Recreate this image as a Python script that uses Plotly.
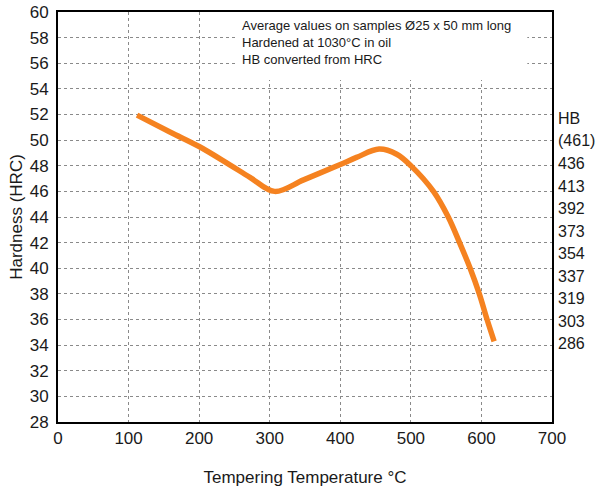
import plotly.graph_objects as go

# Data
temp_c = [112, 160, 200, 244, 272, 307, 348, 400, 423, 455, 480, 501, 532, 553, 569, 584, 597, 608, 618]
hardness_hrc = [51.95, 50.6, 49.5, 48.05, 47.1, 46.0, 46.9, 48.1, 48.65, 49.3, 48.9, 47.95, 46.0, 44.0, 42.0, 40.0, 38.0, 36.0, 34.3]

x_ticks = [0, 100, 200, 300, 400, 500, 600, 700]
y_ticks = list(range(28, 61, 2))
hb_labels = ["286", "303", "319", "337", "354", "373", "392", "413", "436", "(461)", "HB"]

note_lines = [
    "Average values on samples Ø25 x 50 mm long",
    "Hardened at 1030°C in oil",
    "HB converted from HRC",
]

FONT = "Liberation Sans, Arial, sans-serif"
ORANGE = "#F58220"

# layout helpers for HB scale (evenly spaced labels)
hb_base, hb_step = 34.1, 1.76
hb_vals = [hb_base + i * hb_step for i in range(len(hb_labels))]

fig = go.Figure()
fig.add_trace(go.Scatter(
    x=temp_c, y=hardness_hrc, mode="lines",
    line=dict(color=ORANGE, width=5.5, shape="spline", smoothing=1.0),
    showlegend=False, hoverinfo="skip",
))
fig.add_trace(go.Scatter(x=[None], y=[None], yaxis="y2", showlegend=False, hoverinfo="skip"))

grid = dict(showgrid=True, gridcolor="#8a8a8a", gridwidth=1, griddash="dot")
fig.update_layout(
    width=598, height=488,
    margin=dict(l=58, r=46, t=12, b=66),
    paper_bgcolor="white", plot_bgcolor="white",
    font=dict(family=FONT, size=17, color="#1a1a1a"),
    xaxis=dict(range=[0, 700], tickvals=x_ticks, ticks="", showline=True, linecolor="black",
               linewidth=2, mirror=True, zeroline=False, automargin=False,
               title=dict(text="Tempering Temperature °C", standoff=24, font=dict(size=17)), **grid),
    yaxis=dict(range=[28, 60], tickvals=y_ticks, ticks="", showline=True, linecolor="black",
               linewidth=2, mirror=True, zeroline=False, ticklabelstandoff=4, automargin=False,
               title=dict(text="Hardness (HRC)", standoff=3, font=dict(size=17)), **grid),
    yaxis2=dict(range=[28, 60], overlaying="y", side="right", tickvals=hb_vals, ticktext=hb_labels,
                ticks="", showgrid=False, zeroline=False, showline=False, ticklabelstandoff=5,
                automargin=False, tickfont=dict(size=16)),
)

fig.add_shape(type="rect", xref="x", yref="y", x0=255, x1=665, y0=54.7, y1=60,
              fillcolor="white", line=dict(width=0), layer="between")
fig.add_annotation(
    xref="paper", yref="paper", x=(240 - 58) / 494, y=1 - (16 - 12) / 410,
    xanchor="left", yanchor="top", align="left", showarrow=False,
    text="<br>".join(note_lines), font=dict(family=FONT, size=13, color="#1a1a1a"),
)

fig.write_html("out.html")
